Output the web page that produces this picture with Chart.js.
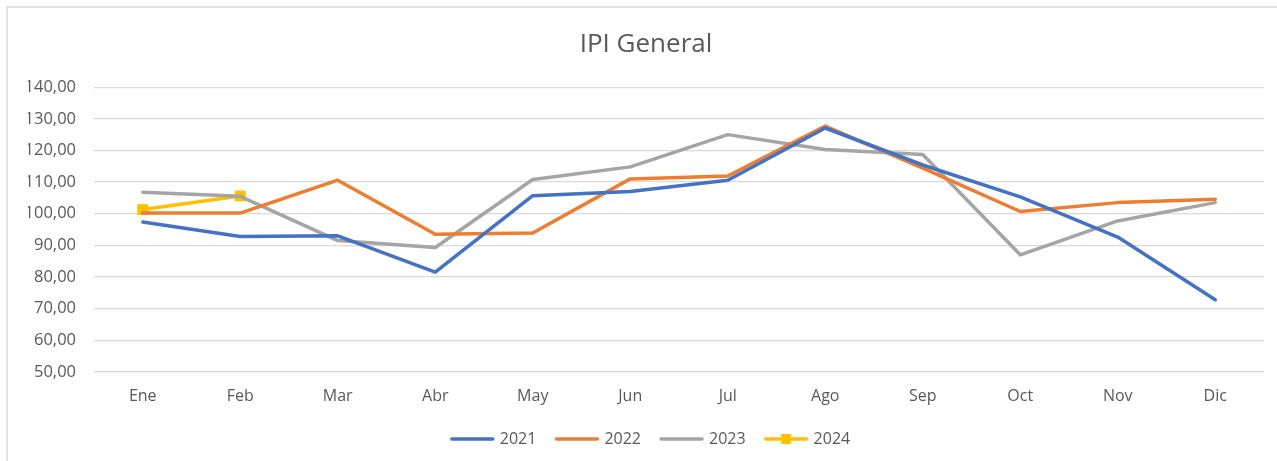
<!DOCTYPE html>
<html>
<head>
<meta charset="utf-8">
<script src="https://cdn.jsdelivr.net/npm/chart.js@4"></script>
<style>
  html, body { margin: 0; padding: 0; background: #fff; }
  #wrap { width: 1277px; height: 461px; position: relative; }
</style>
</head>
<body>
<div id="wrap"><canvas id="graficoIpi" width="1277" height="461"></canvas></div>
<script>
const meses = ["Ene", "Feb", "Mar", "Abr", "May", "Jun", "Jul", "Ago", "Sep", "Oct", "Nov", "Dic"];
const ipi2021 = [97.4, 92.8, 93.0, 81.5, 105.7, 107.0, 110.6, 127.1, 115.4, 105.3, 92.6, 72.8];
const ipi2022 = [100.2, 100.2, 110.6, 93.5, 93.9, 111.0, 111.9, 127.7, 114.4, 100.7, 103.5, 104.6];
const ipi2023 = [106.8, 105.5, 91.5, 89.3, 110.8, 114.8, 125.0, 120.3, 118.7, 87.0, 97.7, 103.5];
const ipi2024 = [101.3, 105.6];
const yTicks = [50, 60, 70, 80, 90, 100, 110, 120, 130, 140];

const textColor = "#595959";
const gridColor = "#d9d9d9";
const fontFamily = "'Open Sans', 'Liberation Sans', sans-serif";

// legend symbols: a line (plus a square for 2024), with some transparent room on the left
function legendSymbol(color, withMarker) {
  const c = document.createElement("canvas");
  c.width = 58;
  c.height = 12;
  const g = c.getContext("2d");
  g.strokeStyle = color;
  g.lineWidth = 3.5;
  g.lineCap = "round";
  g.beginPath();
  g.moveTo(14, 6);
  g.lineTo(55, 6);
  g.stroke();
  if (withMarker) {
    g.fillStyle = color;
    g.fillRect(29.5, 1, 10, 10);
  }
  return c;
}

const series = [
  { label: "2021", data: ipi2021, color: "#4472C4", marker: false },
  { label: "2022", data: ipi2022, color: "#ED7D31", marker: false },
  { label: "2023", data: ipi2023, color: "#A5A5A5", marker: false },
  { label: "2024", data: ipi2024, color: "#FFC000", marker: true },
];

const datasets = series.map((s) => ({
  label: s.label,
  data: s.data,
  borderColor: s.color,
  backgroundColor: s.color,
  borderWidth: 3.5,
  tension: 0,
  pointStyle: "rect",
  pointRadius: s.marker ? 7 : 0,
  pointBorderWidth: 1,
  pointHoverRadius: s.marker ? 7 : 0,
  borderCapStyle: "round",
  borderJoinStyle: "round",
}));

const symbols = series.map((s) => legendSymbol(s.color, s.marker));

const bordePlugin = {
  id: "borde",
  beforeDraw(chart) {
    const ctx = chart.ctx;
    ctx.save();
    ctx.fillStyle = "#fff";
    ctx.fillRect(0, 0, chart.width, chart.height);
    ctx.strokeStyle = gridColor;
    ctx.lineWidth = 1.5;
    ctx.beginPath();
    ctx.moveTo(7, chart.height);
    ctx.lineTo(7, 7);
    ctx.lineTo(chart.width, 7);
    ctx.stroke();
    ctx.restore();
  },
};

new Chart(document.getElementById("graficoIpi").getContext("2d"), {
  type: "line",
  data: { labels: meses, datasets: datasets },
  plugins: [bordePlugin],
  options: {
    responsive: false,
    animation: false,
    layout: { padding: { left: 28, right: 13, top: 0, bottom: 4 } },
    scales: {
      x: {
        offset: true,
        grid: { display: false, drawTicks: false },
        border: { display: false },
        ticks: { color: textColor, font: { family: fontFamily, size: 16 }, padding: 15, maxRotation: 0 },
      },
      y: {
        min: 50,
        max: 140,
        afterFit: (scale) => { scale.width = 66; },
        afterBuildTicks: (scale) => { scale.ticks = yTicks.map((v) => ({ value: v })); },
        grid: { color: gridColor, lineWidth: 1.3, drawTicks: false },
        border: { display: false },
        ticks: {
          color: textColor,
          font: { family: fontFamily, size: 16.5 },
          padding: 18,
          callback: (v) => v.toFixed(2).replace(".", ","),
        },
      },
    },
    plugins: {
      title: {
        display: true,
        text: "IPI General",
        color: textColor,
        font: { family: fontFamily, size: 26, weight: "normal" },
        padding: { top: 29, bottom: 27 },
      },
      legend: {
        position: "bottom",
        labels: {
          color: textColor,
          font: { family: fontFamily, size: 16 },
          usePointStyle: true,
          pointStyleWidth: 50,
          padding: 10,
          generateLabels: (chart) =>
            series.map((s, i) => ({
              text: s.label,
              fontColor: textColor,
              pointStyle: symbols[i],
              datasetIndex: i,
              hidden: false,
              lineWidth: 0,
              strokeStyle: "transparent",
              fillStyle: "transparent",
            })),
        },
      },
      tooltip: { enabled: false },
    },
  },
});
</script>
</body>
</html>
